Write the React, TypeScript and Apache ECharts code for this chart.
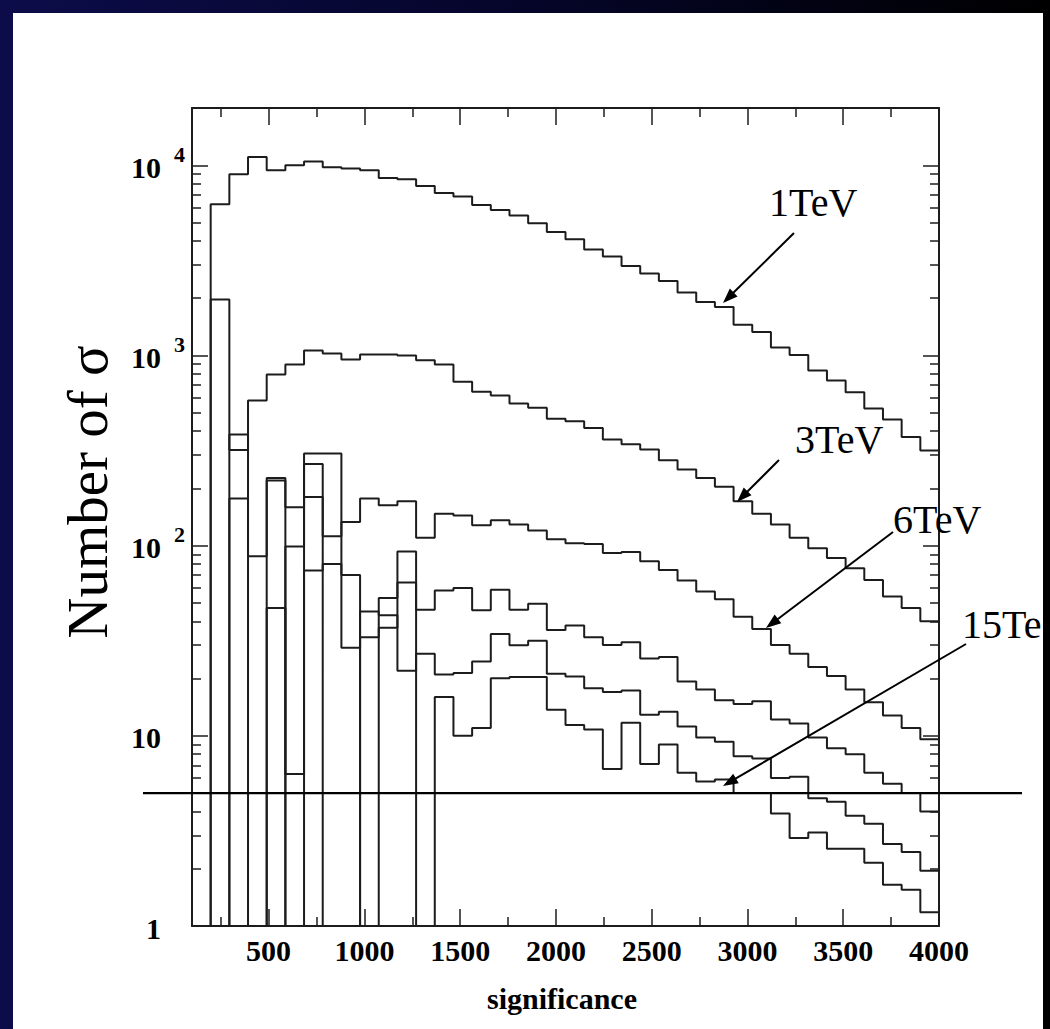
import React, { useEffect, useRef } from "react";
import * as echarts from "echarts";

// ---------- axes ----------
const X_MIN = 100;
const X_MAX = 4000;
const BIN_WIDTH = 97.5; // 40 bins between X_MIN and X_MAX
const Y_MIN = 1;
const Y_MAX = 20000;
const THRESHOLD = 5; // horizontal 5-sigma line

const X_MAJOR_TICKS = [500, 1000, 1500, 2000, 2500, 3000, 3500, 4000];
const X_MINOR_TICKS = [250, 750, 1250, 1750, 2250, 2750, 3250, 3750];
const Y_MAJOR_TICKS = [1, 10, 100, 1000, 10000];
const Y_MINOR_TICKS = [
  2, 3, 4, 5, 6, 7, 8, 9,
  20, 30, 40, 50, 60, 70, 80, 90,
  200, 300, 400, 500, 600, 700, 800, 900,
  2000, 3000, 4000, 5000, 6000, 7000, 8000, 9000,
];
const Y_TICK_LABELS = [
  { value: 1, base: "1", exp: "" },
  { value: 10, base: "10", exp: "" },
  { value: 100, base: "10", exp: "2" },
  { value: 1000, base: "10", exp: "3" },
  { value: 10000, base: "10", exp: "4" },
];

// ---------- histogram contents, bins 0..39 (0 = empty bin) ----------
const TEV_1 = [
  0, 6230, 8970, 11060, 9410, 10000, 10450, 9760, 9610, 9410,
  8580, 8440, 7780, 7150, 6840, 6180, 5820, 5450, 4950, 4460,
  4080, 3610, 3310, 2950, 2700, 2460, 2140, 1910, 1800, 1450,
  1330, 1100, 1004, 834, 739, 641, 526, 460, 373, 316,
];
const TEV_3 = [
  0, 1970, 318, 580, 794, 897, 1063, 1025, 953, 1012,
  1012, 1000, 942, 897, 727, 644, 615, 559, 531, 464,
  451, 416, 361, 341, 320, 281, 251, 227, 204, 171,
  147, 129, 110, 97, 86, 76, 66, 54, 47, 40,
];
const TEV_6 = [
  0, 0, 177, 0, 220, 6.3, 269, 112, 133, 177,
  163, 171, 110, 147, 144, 128, 136, 129, 120, 108,
  103, 102, 91.5, 92.6, 82.7, 74.5, 65.5, 57.3, 52.3, 42.3,
  36.4, 30, 27, 23, 20.6, 17.5, 15, 12.8, 11, 9.6,
];
const CURVE_4 = [
  0, 0, 384, 88, 227, 159, 305, 305, 70, 0,
  53, 93, 46, 58, 59.9, 45.7, 58.7, 46, 49.5, 36,
  38, 33, 30, 31, 25.5, 26, 19.3, 17.5, 15.4, 14.7,
  15.2, 12.2, 11.6, 9.8, 8.6, 8.0, 6.4, 5.6, 5.0, 4.0,
];
const CURVE_5 = [
  0, 0, 0, 0, 47, 0, 74, 80, 29, 45,
  43, 22, 27, 21, 21.4, 24.6, 34.3, 29.9, 31.6, 21.2,
  20.5, 17.8, 17.0, 17.3, 12.9, 13.4, 11.2, 9.8, 9.3, 7.8,
  7.6, 6.0, 6.1, 4.7, 4.5, 3.8, 3.45, 2.7, 2.45, 1.95,
];
const TEV_15 = [
  0, 0, 0, 0, 0, 99, 180, 0, 0, 33,
  37, 64, 0, 16, 10, 11, 20.1, 20.4, 20.4, 13.7,
  11.4, 10.8, 6.7, 11.7, 7.1, 9.0, 6.4, 5.75, 5.9, 5.0,
  5.0, 3.9, 2.9, 3.1, 2.55, 2.55, 2.15, 1.65, 1.55, 1.18,
];

const CURVES = [
  { name: "1TeV", values: TEV_1 },
  { name: "3TeV", values: TEV_3 },
  { name: "6TeV", values: TEV_6 },
  { name: "curve 4", values: CURVE_4 },
  { name: "curve 5", values: CURVE_5 },
  { name: "15TeV", values: TEV_15 },
];

// ---------- annotations (page pixels); the last label is shown as far as the slide edge lets it ----------
const ANNOTATIONS = [
  { text: "1TeV", x: 769, baseline: 216, from: [794, 233], to: [723, 303] },
  { text: "3TeV", x: 795, baseline: 453, from: [779, 460], to: [737, 502] },
  { text: "6TeV", x: 893, baseline: 533, from: [893, 532], to: [766, 628] },
  { text: "15Te", x: 962, baseline: 638, from: [966, 644], to: [723, 786] },
];

const SERIF = "'Liberation Serif', 'Times New Roman', Times, serif";
const INK = "#1c1c1c";
const OFF_SCALE = 0.01; // stand-in for an empty bin on the log axis (drawn below the frame, clipped)

function histogram(values: number[]): [number, number][] {
  const pts: [number, number][] = [];
  values.forEach((v, i) => {
    const left = X_MIN + i * BIN_WIDTH;
    const right = left + BIN_WIDTH;
    const y = v > 0 ? v : OFF_SCALE;
    pts.push([left, y], [right, y]);
  });
  return pts;
}

const axisLineStyle = { color: INK, width: 2 };
const tickStyle = { color: INK, width: 1.5 };

function makeXAxis(position: string, ticks: number[], length: number, line: boolean, labels: boolean) {
  return {
    type: "value",
    position,
    min: X_MIN,
    max: X_MAX,
    silent: true,
    axisLine: { show: line, onZero: false, lineStyle: axisLineStyle },
    axisTick: { show: true, inside: true, length, customValues: ticks, lineStyle: tickStyle },
    axisLabel: labels
      ? {
          show: true,
          customValues: ticks,
          margin: 9,
          color: "#000",
          fontFamily: SERIF,
          fontWeight: "bold",
          fontSize: 30,
          formatter: (v: number) => String(v),
        }
      : { show: false },
    splitLine: { show: false },
    minorTick: { show: false },
    minorSplitLine: { show: false },
  };
}

function makeYAxis(position: string, ticks: number[], length: number, line: boolean) {
  return {
    type: "log",
    logBase: 10,
    position,
    min: Y_MIN,
    max: Y_MAX,
    silent: true,
    axisLine: { show: line, onZero: false, lineStyle: axisLineStyle },
    axisTick: { show: true, inside: true, length, customValues: ticks, lineStyle: tickStyle },
    axisLabel: { show: false },
    splitLine: { show: false },
    minorTick: { show: false },
    minorSplitLine: { show: false },
  };
}

function buildOption() {
  return {
    animation: false,
    backgroundColor: "transparent",
    grid: { left: 192, right: 111, top: 108, bottom: 103, outerBoundsMode: "none", containLabel: false },
    xAxis: [
      makeXAxis("bottom", X_MAJOR_TICKS, 17, true, true),
      makeXAxis("bottom", X_MINOR_TICKS, 9, false, false),
      makeXAxis("top", X_MAJOR_TICKS, 17, true, false),
      makeXAxis("top", X_MINOR_TICKS, 9, false, false),
    ],
    yAxis: [
      makeYAxis("left", Y_MAJOR_TICKS, 16, true),
      makeYAxis("left", Y_MINOR_TICKS, 9, false),
      makeYAxis("right", Y_MAJOR_TICKS, 16, true),
      makeYAxis("right", Y_MINOR_TICKS, 9, false),
    ],
    series: CURVES.map((c) => ({
      type: "line",
      name: c.name,
      xAxisIndex: 0,
      yAxisIndex: 0,
      data: histogram(c.values),
      symbol: "none",
      showSymbol: false,
      clip: true,
      silent: true,
      lineStyle: { color: INK, width: 2 },
      z: 3,
    })),
  };
}

function buildGraphics(chart: any) {
  const toPx = (x: number, y: number) => chart.convertToPixel({ seriesIndex: 0 }, [x, y]) as number[];
  const els: any[] = [];
  const axisX = toPx(X_MIN, Y_MIN)[0];

  // y tick labels: 1, 10, 10^2, 10^3, 10^4
  Y_TICK_LABELS.forEach((l) => {
    const y = toPx(X_MIN, l.value)[1];
    els.push({
      type: "text",
      x: axisX - 31,
      y: y + 2,
      z: 10,
      silent: true,
      style: {
        text: l.base,
        fill: "#000",
        fontFamily: SERIF,
        fontWeight: "bold",
        fontSize: 30,
        textAlign: "right",
        textVerticalAlign: "middle",
      },
    });
    if (l.exp) {
      els.push({
        type: "text",
        x: axisX - 18,
        y: y - 11,
        z: 10,
        silent: true,
        style: {
          text: l.exp,
          fill: "#000",
          fontFamily: SERIF,
          fontWeight: "bold",
          fontSize: 22,
          textAlign: "left",
          textVerticalAlign: "middle",
        },
      });
    }
  });

  // axis titles
  els.push({
    type: "text",
    x: 87,
    y: 492,
    rotation: Math.PI / 2,
    z: 10,
    silent: true,
    style: {
      text: "Number of σ",
      fill: "#000",
      fontFamily: SERIF,
      fontSize: 57,
      textAlign: "center",
      textVerticalAlign: "middle",
    },
  });
  els.push({
    type: "text",
    x: 562,
    y: 998,
    z: 10,
    silent: true,
    style: {
      text: "significance",
      fill: "#000",
      fontFamily: SERIF,
      fontWeight: "bold",
      fontSize: 30,
      textAlign: "center",
      textVerticalAlign: "middle",
    },
  });

  // 5 sigma threshold line
  const yT = toPx(X_MIN, THRESHOLD)[1];
  els.push({
    type: "line",
    z: 10,
    silent: true,
    shape: { x1: 143, y1: yT, x2: 1022, y2: yT },
    style: { stroke: "#000", lineWidth: 2.2 },
  });

  // energy labels with arrows
  ANNOTATIONS.forEach((a) => {
    els.push({
      type: "text",
      x: a.x,
      y: a.baseline - 13.5,
      z: 10,
      silent: true,
      style: {
        text: a.text,
        fill: "#000",
        fontFamily: SERIF,
        fontSize: 40,
        textAlign: "left",
        textVerticalAlign: "middle",
      },
    });
    const [x1, y1] = a.from;
    const [x2, y2] = a.to;
    const dx = x2 - x1;
    const dy = y2 - y1;
    const len = Math.sqrt(dx * dx + dy * dy);
    const ux = dx / len;
    const uy = dy / len;
    const headL = 15;
    const headW = 5.5;
    const bx = x2 - ux * headL;
    const by = y2 - uy * headL;
    els.push({
      type: "line",
      z: 10,
      silent: true,
      shape: { x1, y1, x2: bx + ux * 3, y2: by + uy * 3 },
      style: { stroke: "#000", lineWidth: 2 },
    });
    els.push({
      type: "polygon",
      z: 10,
      silent: true,
      shape: {
        points: [
          [x2, y2],
          [bx - uy * headW, by + ux * headW],
          [bx + uy * headW, by - ux * headW],
        ],
      },
      style: { fill: "#000" },
    });
  });

  return els;
}

export default function App() {
  const ref = useRef<HTMLDivElement>(null);

  useEffect(() => {
    if (!ref.current) return;
    const chart = echarts.init(ref.current, undefined, { renderer: "svg" });
    chart.setOption(buildOption() as any);
    chart.setOption({ graphic: { elements: buildGraphics(chart) } } as any);
    return () => {
      chart.dispose();
    };
  }, []);

  return (
    <div
      style={{
        position: "fixed",
        left: 0,
        top: 0,
        width: 1050,
        height: 1029,
        background: "linear-gradient(to right, #0c0c4a 0%, #05052a 50%, #000000 100%)",
      }}
    >
      <div
        style={{
          position: "absolute",
          left: 13,
          top: 13,
          width: 1030,
          height: 1016,
          background: "#ffffff",
          overflow: "hidden",
        }}
      >
        <div ref={ref} style={{ position: "absolute", left: -13, top: -13, width: 1050, height: 1029 }} />
      </div>
    </div>
  );
}
